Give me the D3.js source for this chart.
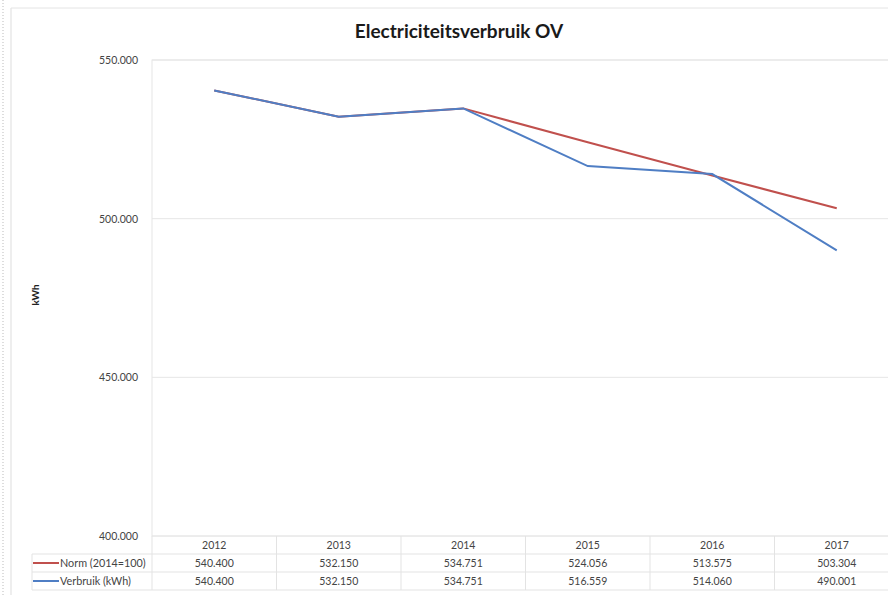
<!DOCTYPE html>
<html><head><meta charset="utf-8">
<script src="https://cdn.jsdelivr.net/npm/d3@7"></script>
<style>body{margin:0;background:#fff;}svg{display:block;font-family:Lato,"Open Sans",sans-serif;}</style>
</head><body>
<svg id="c" width="888" height="595"></svg>
<script>
const years = ["2012","2013","2014","2015","2016","2017"];
const norm = [540400, 532150, 534751, 524056, 513575, 503304];
const verbruik = [540400, 532150, 534751, 516559, 514060, 490001];
const yTicks = [400000, 450000, 500000, 550000];
const seriesNames = ["Norm (2014=100)", "Verbruik (kWh)"];
const colors = ["#c0504d", "#4f7ec4"];

const svg = d3.select("#c");
const fmt = d3.formatLocale({decimal:",", thousands:".", grouping:[3], currency:["€",""]}).format(",d");

// outer frame
svg.append("line").attr("x1",3).attr("x2",3).attr("y1",0).attr("y2",595).attr("stroke","#bbb").attr("stroke-dasharray","1,2");
svg.append("line").attr("x1",11).attr("x2",11).attr("y1",8).attr("y2",595).attr("stroke","#ddd");
svg.append("line").attr("x1",11).attr("x2",888).attr("y1",8).attr("y2",8).attr("stroke","#e4e4e4");

const L = 152, R = 899, T = 60, B = 536;
const x = d3.scaleBand().domain(years).range([L, R]);
const y = d3.scaleLinear().domain([400000, 550000]).range([B, T]);

// plot border
svg.append("rect").attr("x",L).attr("y",T).attr("width",R-L).attr("height",B-T).attr("fill","none").attr("stroke","#e6e6e6");

// gridlines
svg.append("g").selectAll("line").data(yTicks).join("line")
  .attr("x1",L).attr("x2",R).attr("y1",d=>y(d)).attr("y2",d=>y(d)).attr("stroke","#e6e6e6");

// y tick labels
const yAxis = d3.axisLeft(y).tickValues(yTicks).tickFormat(fmt).tickSize(0).tickPadding(14);
const ya = svg.append("g").attr("transform",`translate(${L},0)`).call(yAxis);
ya.select(".domain").remove();
ya.selectAll("text").attr("font-size",10.5).attr("fill","#444").attr("font-family","Lato,sans-serif");

// axis title
svg.append("text").attr("transform","translate(39,295) rotate(-90)").attr("text-anchor","middle")
  .attr("font-size",10).attr("font-weight","bold").attr("fill","#222").text("kWh");

// title
svg.append("text").attr("x",459).attr("y",38).attr("text-anchor","middle").attr("font-size",19)
  .attr("font-weight","bold").attr("fill","#1a1a1a").text("Electriciteitsverbruik OV");

// lines
const line = d3.line().x((d,i)=>x(years[i])+x.bandwidth()/2).y(d=>y(d));
[norm, verbruik].forEach((s,i)=>{
  svg.append("path").datum(s).attr("d",line).attr("fill","none").attr("stroke",colors[i]).attr("stroke-width",2);
});

// data table
const rowH = 18;
const tbl = svg.append("g");
const rowsY = [B, B+rowH, B+2*rowH, B+3*rowH];
tbl.selectAll("line.h").data(rowsY.slice(1)).join("line").attr("class","h")
  .attr("x1",32).attr("x2",R).attr("y1",d=>d).attr("y2",d=>d).attr("stroke","#e3e3e3");
tbl.selectAll("line.v").data(years).join("line").attr("class","v")
  .attr("x1",d=>x(d)).attr("x2",d=>x(d)).attr("y1",B).attr("y2",B+3*rowH).attr("stroke","#e3e3e3");
tbl.append("line").attr("x1",32).attr("x2",32).attr("y1",B+rowH).attr("y2",B+3*rowH).attr("stroke","#e3e3e3");

tbl.selectAll("text.yr").data(years).join("text").attr("class","yr")
  .attr("x",d=>x(d)+x.bandwidth()/2).attr("y",B+rowH-5).attr("text-anchor","middle")
  .attr("font-size",10.5).attr("fill","#444").text(d=>d);

[norm, verbruik].forEach((s,i)=>{
  const yy = B+rowH*(i+1)+13;
  tbl.append("line").attr("x1",33).attr("x2",59).attr("y1",yy-4).attr("y2",yy-4).attr("stroke",colors[i]).attr("stroke-width",2);
  tbl.append("text").attr("x",60).attr("y",yy).attr("font-size",10.8).attr("fill","#444").text(seriesNames[i]);
  tbl.selectAll("text.v"+i).data(s).join("text").attr("class","v"+i)
    .attr("x",(d,j)=>x(years[j])+x.bandwidth()/2).attr("y",yy).attr("text-anchor","middle")
    .attr("font-size",10.5).attr("fill","#444").text(d=>fmt(d));
});
</script>
</body></html>
